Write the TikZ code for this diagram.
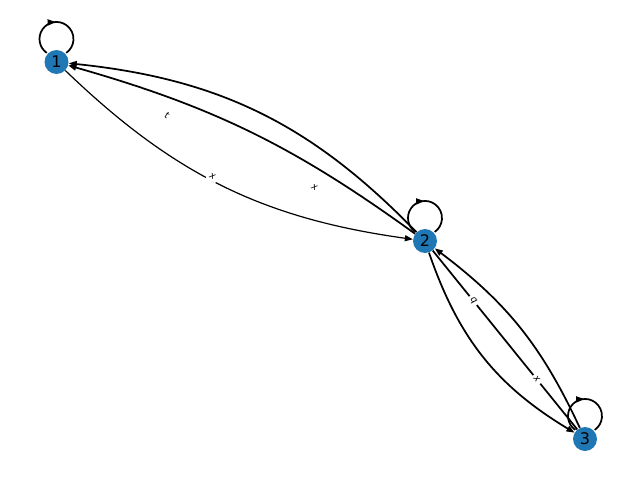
\documentclass[tikz,border=0pt]{standalone}
\usepackage{fontspec}
\setmainfont{DejaVu Sans}
\usetikzlibrary{arrows.meta, positioning, calc, decorations.markings}

\definecolor{nodeblue}{HTML}{1F77B4}

\tikzset{
    vertex/.style={circle, fill=nodeblue, minimum size=18pt, inner sep=0pt, font=\fontsize{12}{14}\selectfont},
    edge/.style={line width=1.3pt, -{Triangle[length=6pt, width=4.5pt]}},
    thinedge/.style={line width=0.9pt, -{Triangle[length=6pt, width=4.5pt]}},
    elabel/.style={fill=white, inner sep=2pt, font=\fontsize{7}{8}\selectfont\itshape},
    selfloop/.style={line width=1.3pt, postaction={decorate},
        decoration={markings, mark=at position 0.49 with {\arrow{Triangle[length=6pt, width=4.5pt]}}}}
}

\begin{document}
\begin{tikzpicture}[x=0.75pt, y=0.75pt]
    \useasboundingbox (0,0) rectangle (640,480);

    % Nodes
    \node[vertex] (n1) at (56.5,418) {1};
    \node[vertex] (n2) at (425,239) {2};
    \node[vertex] (n3) at (585,41) {3};

    % Edges between 1 and 2
    \draw[thinedge] (n1) to[bend right=18] node[elabel, pos=0.46, rotate=-26, yshift=3pt] {x} (n2);
    \draw[edge] (n2) to[bend right=10] (n1);
    \draw[edge] (n2) to[bend right=20] (n1);

    % Edges between 2 and 3
    \draw[edge] (n2) to[bend right=20] (n3);
    \draw[edge] (n3) to[bend right=14] (n2);
    \draw[line width=1.3pt] (n2) -- node[elabel, pos=0.28, rotate=-51] {q} node[elabel, pos=0.72, rotate=-51] {x} (n3);

    % Self loops
    \foreach \n in {n1, n2, n3}
        \draw[selfloop] (\n.center) ++(-9.75,9.1) arc[start angle=235, end angle=-55, radius=17];

    % Labels of the 1--2 edges
    \node[elabel, rotate=-26] (lt) at ($(n1)!0.3!(n2)$) {t};
    \node[elabel, rotate=-26] (lx) at ($(n1)!0.7!(n2)$) {x};
\end{tikzpicture}
\end{document}
